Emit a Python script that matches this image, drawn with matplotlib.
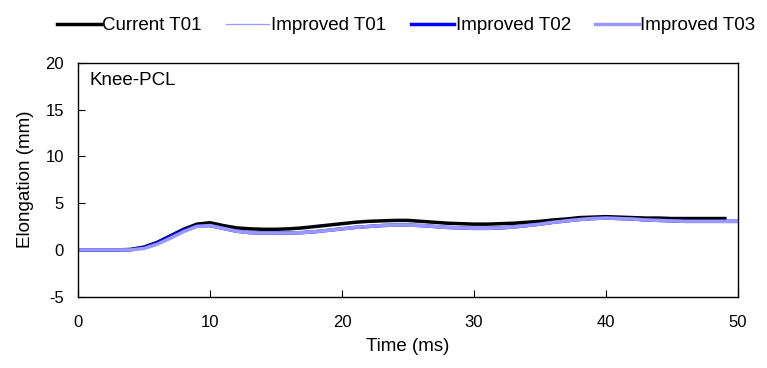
import matplotlib
matplotlib.use('Agg')
import matplotlib.pyplot as plt

plt.rcParams['font.family'] = ['Liberation Sans', 'DejaVu Sans']
plt.rcParams['font.size'] = 12
plt.rcParams['axes.unicode_minus'] = False
plt.rcParams['xtick.direction'] = 'in'
plt.rcParams['ytick.direction'] = 'in'

# data
t_cur = list(range(0, 50))
cur_t01 = [0, 0, 0, 0, 0.05, 0.3, 0.8, 1.5, 2.2, 2.75,
           2.9, 2.6, 2.35, 2.25, 2.2, 2.2, 2.25, 2.35, 2.5, 2.65,
           2.8, 2.95, 3.05, 3.1, 3.15, 3.15, 3.05, 2.95, 2.85, 2.8,
           2.75, 2.75, 2.8, 2.85, 2.95, 3.05, 3.2, 3.3, 3.45, 3.5,
           3.55, 3.5, 3.45, 3.4, 3.4, 3.35, 3.35, 3.35, 3.35, 3.35]

t_imp = list(range(0, 51))
imp_t01 = [0, 0, 0, 0, 0, 0.15, 0.6, 1.25, 1.95, 2.5,
           2.6, 2.3, 2.0, 1.85, 1.8, 1.8, 1.8, 1.85, 1.95, 2.1,
           2.25, 2.4, 2.5, 2.6, 2.65, 2.65, 2.6, 2.5, 2.4, 2.35,
           2.3, 2.3, 2.35, 2.45, 2.6, 2.75, 2.95, 3.1, 3.25, 3.35,
           3.4, 3.35, 3.3, 3.2, 3.15, 3.1, 3.05, 3.05, 3.05, 3.05, 3.05]
imp_t02 = [0, 0, 0, 0, 0.02, 0.25, 0.75, 1.45, 2.1, 2.55,
           2.6, 2.3, 2.0, 1.85, 1.8, 1.8, 1.8, 1.85, 1.95, 2.1,
           2.25, 2.4, 2.5, 2.6, 2.65, 2.65, 2.6, 2.5, 2.4, 2.35,
           2.3, 2.3, 2.35, 2.45, 2.6, 2.75, 2.95, 3.1, 3.25, 3.35,
           3.4, 3.35, 3.3, 3.2, 3.15, 3.1, 3.05, 3.05, 3.05, 3.05, 3.05]
imp_t03 = [0, 0, 0, 0, 0, 0.15, 0.6, 1.25, 1.95, 2.5,
           2.6, 2.3, 2.0, 1.85, 1.8, 1.8, 1.8, 1.85, 1.95, 2.1,
           2.25, 2.4, 2.5, 2.6, 2.65, 2.65, 2.6, 2.5, 2.4, 2.35,
           2.3, 2.3, 2.35, 2.45, 2.6, 2.75, 2.95, 3.1, 3.25, 3.35,
           3.4, 3.35, 3.3, 3.2, 3.15, 3.1, 3.05, 3.05, 3.05, 3.05, 3.05]

fig = plt.figure(figsize=(7.67, 3.68), dpi=100)
ax = fig.add_axes([0.1017, 0.1938, 0.8605, 0.6358])

ax.plot(t_cur, cur_t01, color='black', lw=2.5, label='Current T01')
ax.plot(t_imp, imp_t01, color='#9999FF', lw=0.9, label='Improved T01')
ax.plot(t_imp, imp_t02, color='#0000FF', lw=2.5, label='Improved T02')
ax.plot(t_imp, imp_t03, color='#9999FF', lw=2.5, label='Improved T03')

ax.set_xlim(0, 50)
ax.set_ylim(-5, 20)
ax.set_xticks([0, 10, 20, 30, 40, 50])
ax.set_yticks([-5, 0, 5, 10, 15, 20])
ax.tick_params(axis='x', pad=13, length=5, width=0.8, labelsize=12)
ax.tick_params(axis='y', pad=10, length=5, width=0.8, labelsize=12)
for s in ax.spines.values():
    s.set_linewidth(1.0)

ax.set_xlabel('Time (ms)', fontsize=13.5, labelpad=6)
ax.set_ylabel('Elongation (mm)', fontsize=13.5, labelpad=8)
ax.text(0.018, 0.925, 'Knee-PCL', transform=ax.transAxes, ha='left', va='center',
        fontsize=13.5)

fig.legend(loc='center', bbox_to_anchor=(0.53, 0.93), ncol=4, frameon=False,
           fontsize=13.5, handlelength=2.3, handletextpad=0.1, columnspacing=1.3,
           borderaxespad=0)

fig.savefig('out.png', dpi=100)
